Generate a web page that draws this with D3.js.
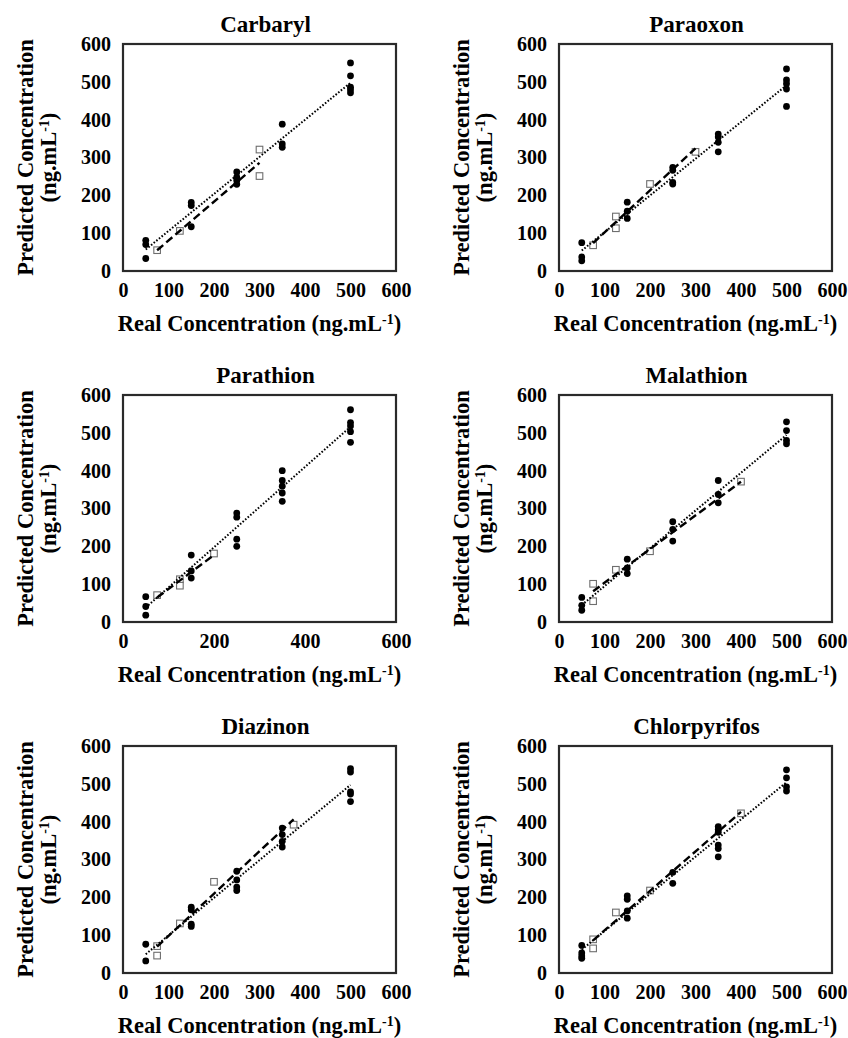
<!DOCTYPE html>
<html>
<head>
<meta charset="utf-8">
<script src="https://cdn.jsdelivr.net/npm/d3@7"></script>
<style>
  body { margin: 0; background: #fff; }
  svg text { font-family: "Liberation Serif", "Times New Roman", Times, serif; font-weight: bold; fill: #000; }
</style>
</head>
<body>
<svg id="chart" width="848" height="1038"></svg>
<script>
// filled dots = calibration replicates, open squares = spiked samples
const carbarylCalX = [50, 50, 50, 150, 150, 150, 250, 250, 250, 250, 350, 350, 350, 500, 500, 500, 500, 500];
const carbarylCalY = [81, 70, 33, 181, 173, 117, 262, 248, 239, 229, 388, 336, 327, 550, 516, 486, 479, 471];
const carbarylValX = [75, 125, 300, 300];
const carbarylValY = [55, 106, 321, 251];

const paraoxonCalX = [50, 50, 50, 150, 150, 150, 250, 250, 250, 250, 350, 350, 350, 350, 500, 500, 500, 500, 500];
const paraoxonCalY = [75, 37, 27, 182, 158, 139, 274, 266, 234, 230, 362, 354, 340, 315, 534, 505, 495, 481, 435];
const paraoxonValX = [75, 125, 125, 200, 300];
const paraoxonValY = [68, 144, 113, 230, 315];

const parathionCalX = [50, 50, 50, 150, 150, 150, 250, 250, 250, 250, 350, 350, 350, 350, 350, 500, 500, 500, 500, 500];
const parathionCalY = [67, 41, 18, 177, 135, 116, 288, 277, 219, 200, 400, 374, 359, 341, 319, 561, 527, 518, 503, 475];
const parathionValX = [75, 125, 125, 200];
const parathionValY = [71, 113, 96, 181];

const malathionCalX = [50, 50, 50, 150, 150, 150, 250, 250, 250, 350, 350, 350, 500, 500, 500, 500];
const malathionCalY = [65, 44, 31, 166, 143, 128, 265, 245, 214, 374, 337, 315, 529, 506, 480, 471];
const malathionValX = [75, 75, 125, 200, 400];
const malathionValY = [101, 55, 138, 187, 371];

const diazinonCalX = [50, 50, 150, 150, 150, 150, 250, 250, 250, 250, 350, 350, 350, 350, 500, 500, 500, 500, 500];
const diazinonCalY = [76, 32, 174, 167, 129, 123, 269, 246, 227, 218, 383, 366, 348, 333, 540, 531, 479, 473, 453];
const diazinonValX = [75, 75, 125, 200, 375];
const diazinonValY = [71, 46, 131, 241, 392];

const chlorpyrifosCalX = [50, 50, 50, 50, 150, 150, 150, 150, 250, 250, 350, 350, 350, 350, 350, 350, 500, 500, 500, 500];
const chlorpyrifosCalY = [73, 53, 45, 39, 204, 195, 164, 145, 266, 237, 387, 379, 372, 338, 329, 307, 537, 516, 492, 481];
const chlorpyrifosValX = [75, 75, 125, 200, 400];
const chlorpyrifosValY = [89, 65, 160, 218, 422];

const xTicksStep100 = [0, 100, 200, 300, 400, 500, 600];
const xTicksStep200 = [0, 200, 400, 600];
const yTicks = [0, 100, 200, 300, 400, 500, 600];

const panels = [
  { name: 'Carbaryl', calX: carbarylCalX, calY: carbarylCalY, valX: carbarylValX, valY: carbarylValY, xTicks: xTicksStep100 },
  { name: 'Paraoxon', calX: paraoxonCalX, calY: paraoxonCalY, valX: paraoxonValX, valY: paraoxonValY, xTicks: xTicksStep100 },
  { name: 'Parathion', calX: parathionCalX, calY: parathionCalY, valX: parathionValX, valY: parathionValY, xTicks: xTicksStep200 },
  { name: 'Malathion', calX: malathionCalX, calY: malathionCalY, valX: malathionValX, valY: malathionValY, xTicks: xTicksStep100 },
  { name: 'Diazinon', calX: diazinonCalX, calY: diazinonCalY, valX: diazinonValX, valY: diazinonValY, xTicks: xTicksStep100 },
  { name: 'Chlorpyrifos', calX: chlorpyrifosCalX, calY: chlorpyrifosCalY, valX: chlorpyrifosValX, valY: chlorpyrifosValY, xTicks: xTicksStep100 }
];

const colLeft = [123, 559];
const rowTop = [44, 395, 746];
const boxW = 273, boxH = 227;
const serif = '"Liberation Serif", "Times New Roman", Times, serif';

const svg = d3.select('#chart');

// least squares trendline, like the spreadsheet one
function fitLine(xs, ys) {
  const mx = d3.mean(xs), my = d3.mean(ys);
  let sxy = 0, sxx = 0;
  xs.forEach((x, i) => { sxy += (x - mx) * (ys[i] - my); sxx += (x - mx) * (x - mx); });
  const slope = sxy / sxx;
  const x0 = d3.min(xs), x1 = d3.max(xs);
  return [[x0, my + slope * (x0 - mx)], [x1, my + slope * (x1 - mx)]];
}

function addUnits(sel, main) {
  sel.append('tspan').text(main + '(ng.mL');
  sel.append('tspan').attr('baseline-shift', 'super').attr('font-size', '62%').text('-1');
  sel.append('tspan').text(')');
}

panels.forEach((p, i) => {
  const col = i % 2, row = Math.floor(i / 2);
  const g = svg.append('g')
    .attr('font-family', serif)
    .attr('font-weight', 'bold')
    .attr('transform', 'translate(' + colLeft[col] + ',' + rowTop[row] + ')');

  const x = d3.scaleLinear().domain([0, 600]).range([0, boxW]);
  const y = d3.scaleLinear().domain([0, 600]).range([boxH, 0]);

  g.append('g')
    .attr('transform', 'translate(0,' + boxH + ')')
    .call(d3.axisBottom(x).tickValues(p.xTicks).tickSize(0).tickPadding(0).tickFormat(d3.format('d')))
    .call(a => a.attr('font-family', serif).attr('font-size', 20))
    .call(a => a.select('.domain').remove())
    .call(a => a.selectAll('text').attr('dy', null).attr('y', 26));

  g.append('g')
    .call(d3.axisLeft(y).tickValues(yTicks).tickSize(0).tickPadding(12).tickFormat(d3.format('d')))
    .call(a => a.attr('font-family', serif).attr('font-size', 20))
    .call(a => a.select('.domain').remove());

  g.append('rect')
    .attr('width', boxW).attr('height', boxH)
    .attr('fill', 'none').attr('stroke', '#2a2a2a').attr('stroke-width', 2.2);

  const cal = p.calX.map((v, k) => [v, p.calY[k]]);
  const val = p.valX.map((v, k) => [v, p.valY[k]]);

  g.selectAll('circle.cal').data(cal).join('circle')
    .attr('class', 'cal')
    .attr('cx', d => x(d[0])).attr('cy', d => y(d[1]))
    .attr('r', 3.4).attr('fill', '#000');

  g.selectAll('rect.val').data(val).join('rect')
    .attr('class', 'val')
    .attr('x', d => x(d[0]) - 3.3).attr('y', d => y(d[1]) - 3.3)
    .attr('width', 6.6).attr('height', 6.6)
    .attr('fill', '#fff').attr('stroke', '#6e6e6e').attr('stroke-width', 1.1);

  const line = d3.line().x(d => x(d[0])).y(d => y(d[1]));

  g.append('path')
    .datum(fitLine(p.calX, p.calY))
    .attr('d', line)
    .attr('fill', 'none').attr('stroke', '#000')
    .attr('stroke-width', 2).attr('stroke-dasharray', '1.6,1.8');

  g.append('path')
    .datum(fitLine(p.valX, p.valY))
    .attr('d', line)
    .attr('fill', 'none').attr('stroke', '#000')
    .attr('stroke-width', 2.4).attr('stroke-dasharray', '8,4');

  g.append('text')
    .attr('x', boxW / 2 + (col === 0 ? 6 : 1)).attr('y', -12.5)
    .attr('text-anchor', 'middle').attr('font-size', 23)
    .text(p.name);

  g.append('text')
    .attr('x', boxW / 2).attr('y', boxH + 60)
    .attr('text-anchor', 'middle').attr('font-size', 22.5)
    .call(t => addUnits(t, 'Real Concentration '));

  const yt = g.append('g').attr('transform', 'translate(-90,' + boxH / 2 + ') rotate(-90)');
  yt.append('text').attr('text-anchor', 'middle').attr('font-size', 22.5)
    .text('Predicted Concentration');
  yt.append('text').attr('y', 23).attr('text-anchor', 'middle').attr('font-size', 22.5)
    .call(t => addUnits(t, ''));
});
</script>
</body>
</html>
